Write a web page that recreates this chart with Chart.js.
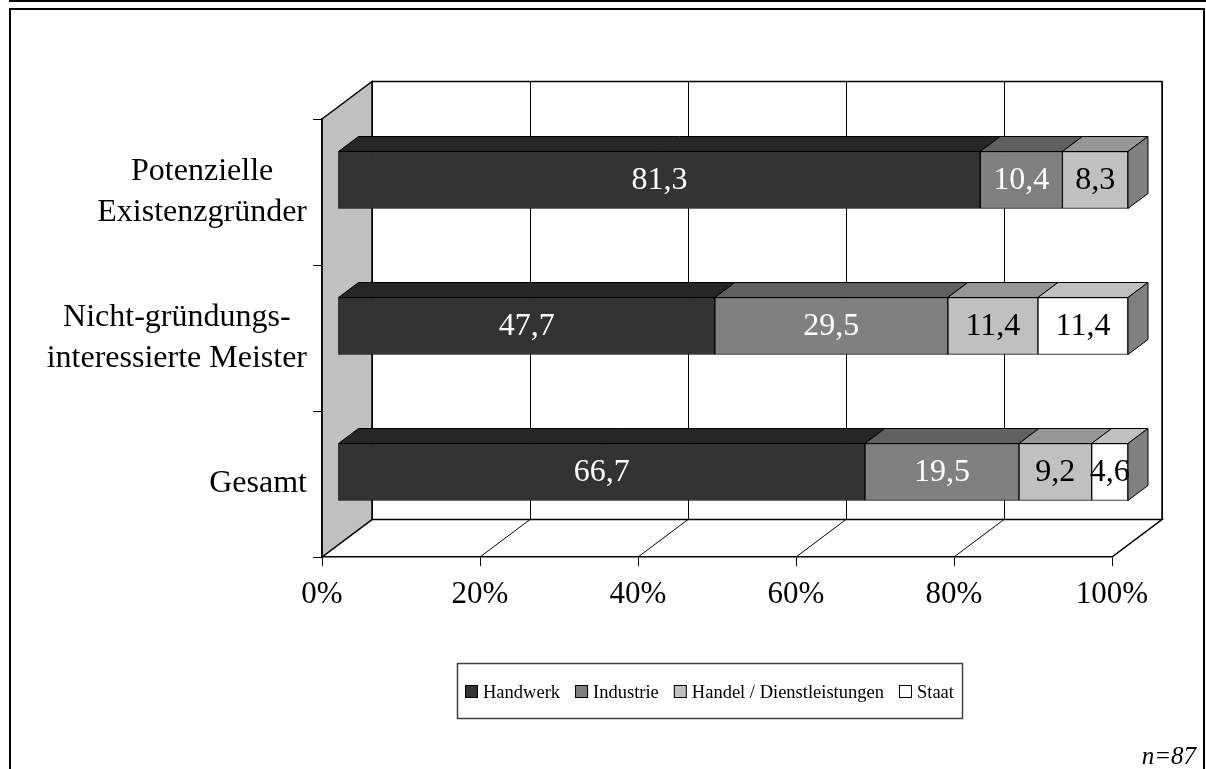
<!DOCTYPE html>
<html>
<head>
<meta charset="utf-8">
<script src="https://cdn.jsdelivr.net/npm/chart.js@4"></script>
<style>
  html, body { margin: 0; padding: 0; background: #fff; }
  #wrap { width: 1206px; height: 769px; }
</style>
</head>
<body>
<div id="wrap"><canvas id="branchenChart" width="1206" height="769"></canvas></div>
<script>
// Verbleib nach Wirtschaftsbereich (Angaben in %)
const categories = [
    ['Potenzielle', 'Existenzgründer'],
    ['Nicht-gründungs-', 'interessierte Meister'],
    ['Gesamt']
];
const seriesNames = ['Handwerk', 'Industrie', 'Handel / Dienstleistungen', 'Staat'];
const handwerk = [81.3, 47.7, 66.7];
const industrie = [10.4, 29.5, 19.5];
const handel = [8.3, 11.4, 9.2];
const staat = [null, 11.4, 4.6];
const xTicks = [0, 20, 40, 60, 80, 100];

const frontColors = ['#333333', '#808080', '#c0c0c0', '#ffffff'];
const topColors = ['#262626', '#606060', '#969696', '#c0c0c0'];
const sideColors = ['#1a1a1a', '#404040', '#808080', '#808080'];
const labelColors = ['#ffffff', '#ffffff', '#000000', '#000000'];

const serif = '"Liberation Serif", "Times New Roman", serif';

// Tiefe des 3D-Raums und Lage der Balken darin
const DEPTH_X = 50, DEPTH_Y = -37.5;
const BAR_FRONT = 0.32, BAR_DEPTH = 0.4;

const fmt = v => v.toFixed(1).replace('.', ',');

// Wände, Boden und Rahmen
const wallsPlugin = {
    id: 'walls',
    beforeDraw(chart) {
        const ctx = chart.ctx;
        const a = chart.chartArea;
        const xs = chart.scales.x;
        ctx.save();

        // Rahmen der Seite
        ctx.strokeStyle = '#000';
        ctx.lineWidth = 2;
        ctx.beginPath();
        ctx.moveTo(9, 1); ctx.lineTo(1206, 1);
        ctx.stroke();
        ctx.beginPath();
        ctx.moveTo(10, 780); ctx.lineTo(10, 9); ctx.lineTo(1204, 9); ctx.lineTo(1204, 780);
        ctx.stroke();

        const bl = a.left + DEPTH_X, bt = a.top + DEPTH_Y;
        const br = a.right + DEPTH_X, bb = a.bottom + DEPTH_Y;

        // Rückwand mit Gitterlinien
        ctx.fillStyle = '#fff';
        ctx.fillRect(bl, bt, br - bl, bb - bt);
        ctx.lineWidth = 1;
        ctx.beginPath();
        xTicks.forEach(t => {
            const px = Math.round(xs.getPixelForValue(t) + DEPTH_X) + 0.5;
            ctx.moveTo(px, bt); ctx.lineTo(px, bb);
        });
        ctx.stroke();
        ctx.lineWidth = 1.5;
        ctx.beginPath();
        ctx.moveTo(bl, bt); ctx.lineTo(br, bt); ctx.lineTo(br, bb);
        ctx.stroke();

        // Boden
        ctx.beginPath();
        ctx.moveTo(a.left, a.bottom); ctx.lineTo(bl, bb);
        ctx.lineTo(br, bb); ctx.lineTo(a.right, a.bottom);
        ctx.closePath();
        ctx.fillStyle = '#fff';
        ctx.fill();
        ctx.lineWidth = 1;
        ctx.beginPath();
        xTicks.forEach(t => {
            const px = xs.getPixelForValue(t);
            ctx.moveTo(px, a.bottom); ctx.lineTo(px + DEPTH_X, bb);
        });
        ctx.stroke();
        ctx.lineWidth = 1.5;
        ctx.beginPath();
        ctx.moveTo(bl, bb); ctx.lineTo(br, bb); ctx.lineTo(a.right, a.bottom);
        ctx.stroke();

        // Seitenwand links
        ctx.beginPath();
        ctx.moveTo(a.left, a.top); ctx.lineTo(bl, bt);
        ctx.lineTo(bl, bb); ctx.lineTo(a.left, a.bottom);
        ctx.closePath();
        ctx.fillStyle = '#c0c0c0';
        ctx.fill();
        ctx.stroke();

        ctx.restore();
    }
};

// Balken in die Raumtiefe verschieben, Deck- und Seitenflächen, Werte
const barsPlugin = {
    id: 'bars3d',
    beforeDatasetsDraw(chart) {
        chart.ctx.save();
        chart.ctx.translate(DEPTH_X * BAR_FRONT, DEPTH_Y * BAR_FRONT);
    },
    afterDatasetsDraw(chart) {
        const ctx = chart.ctx;
        const dx = DEPTH_X * BAR_DEPTH, dy = DEPTH_Y * BAR_DEPTH;
        const n = chart.data.labels.length;
        ctx.lineWidth = 1;
        ctx.strokeStyle = '#000';
        ctx.lineJoin = 'round';

        for (let i = 0; i < n; i++) {
            let last = -1;
            chart.data.datasets.forEach((ds, d) => {
                if (ds.data[i] != null) last = d;
            });
            chart.data.datasets.forEach((ds, d) => {
                if (ds.data[i] == null) return;
                const el = chart.getDatasetMeta(d).data[i];
                const p = el.getProps(['x', 'y', 'base', 'height'], true);
                const top = p.y - p.height / 2, bot = p.y + p.height / 2;
                const x0 = Math.min(p.base, p.x), x1 = Math.max(p.base, p.x);

                ctx.beginPath();
                ctx.moveTo(x0, top); ctx.lineTo(x0 + dx, top + dy);
                ctx.lineTo(x1 + dx, top + dy); ctx.lineTo(x1, top);
                ctx.closePath();
                ctx.fillStyle = topColors[d];
                ctx.fill();
                ctx.stroke();

                if (d === last) {
                    ctx.beginPath();
                    ctx.moveTo(x1, top); ctx.lineTo(x1 + dx, top + dy);
                    ctx.lineTo(x1 + dx, bot + dy); ctx.lineTo(x1, bot);
                    ctx.closePath();
                    ctx.fillStyle = sideColors[d];
                    ctx.fill();
                    ctx.stroke();
                }
            });
        }

        ctx.font = '32px ' + serif;
        ctx.textAlign = 'center';
        ctx.textBaseline = 'middle';
        chart.data.datasets.forEach((ds, d) => {
            chart.getDatasetMeta(d).data.forEach((el, i) => {
                const v = ds.data[i];
                if (v == null) return;
                const c = el.getCenterPoint();
                ctx.fillStyle = labelColors[d];
                ctx.fillText(fmt(v), c.x, c.y + 1);
            });
        });

        ctx.restore();
    }
};

// Kategorienbeschriftung: Block rechtsbündig, Zeilen zentriert
const categoryLabelPlugin = {
    id: 'categoryLabels',
    afterDraw(chart) {
        const ctx = chart.ctx;
        const ys = chart.scales.y;
        const right = ys.right - 9 - 6;
        const lh = 40.4;
        ctx.save();
        ctx.font = '32px ' + serif;
        ctx.fillStyle = '#000';
        ctx.textAlign = 'center';
        ctx.textBaseline = 'middle';
        chart.data.labels.forEach((lines, i) => {
            const cy = ys.getPixelForValue(i);
            const w = Math.max(...lines.map(s => ctx.measureText(s).width));
            const cx = right - w / 2;
            lines.forEach((s, j) => {
                ctx.fillText(s, cx, cy + (j - (lines.length - 1) / 2) * lh);
            });
        });
        ctx.restore();
    }
};

// Legende mit Rahmen und Fußnote
const legendPlugin = {
    id: 'boxLegend',
    afterDraw(chart) {
        const ctx = chart.ctx;
        ctx.save();
        ctx.strokeStyle = '#404040';
        ctx.lineWidth = 1.5;
        ctx.strokeRect(457.5, 663.5, 505, 55);

        ctx.font = '18.5px ' + serif;
        ctx.textBaseline = 'alphabetic';
        ctx.textAlign = 'left';
        let x = 465;
        chart.data.datasets.forEach((ds, d) => {
            ctx.fillStyle = ds.backgroundColor;
            ctx.fillRect(x, 685, 13, 13);
            ctx.strokeStyle = '#000';
            ctx.lineWidth = 1;
            ctx.strokeRect(x + 0.5, 685.5, 12, 12);
            ctx.fillStyle = '#000';
            ctx.fillText(ds.label, x + 18, 698);
            x += 18 + ctx.measureText(ds.label).width + 15;
        });

        ctx.font = 'italic 25px ' + serif;
        ctx.textAlign = 'right';
        ctx.fillText('n=87', 1196, 764);
        ctx.restore();
    }
};

const seriesValues = [handwerk, industrie, handel, staat];

new Chart(document.getElementById('branchenChart'), {
    type: 'bar',
    data: {
        labels: categories,
        datasets: seriesNames.map((name, d) => ({
            label: name,
            data: seriesValues[d],
            backgroundColor: frontColors[d],
            borderColor: '#000',
            borderWidth: 1,
            borderSkipped: false,
            barThickness: 57
        }))
    },
    options: {
        indexAxis: 'y',
        responsive: false,
        animation: false,
        clip: false,
        layout: { padding: { top: 119, right: 94, left: 0, bottom: 0 } },
        scales: {
            x: {
                stacked: true,
                min: 0,
                max: 100,
                afterFit(scale) { scale.height = 212; },
                afterBuildTicks(scale) { scale.ticks = xTicks.map(v => ({ value: v })); },
                ticks: {
                    callback: v => v + '%',
                    color: '#000',
                    padding: 10,
                    maxRotation: 0,
                    font: { family: serif, size: 31 }
                },
                grid: { drawOnChartArea: false, tickLength: 9, color: '#000', lineWidth: 1 },
                border: { color: '#000', width: 1.5 }
            },
            y: {
                stacked: true,
                afterFit(scale) { scale.width = 322; },
                ticks: { display: false },
                grid: { drawOnChartArea: false, tickLength: 9, color: '#000', lineWidth: 1, offset: true },
                border: { color: '#000', width: 1.5 }
            }
        },
        plugins: {
            legend: { display: false },
            tooltip: { enabled: false }
        }
    },
    plugins: [wallsPlugin, barsPlugin, categoryLabelPlugin, legendPlugin]
});
</script>
</body>
</html>
